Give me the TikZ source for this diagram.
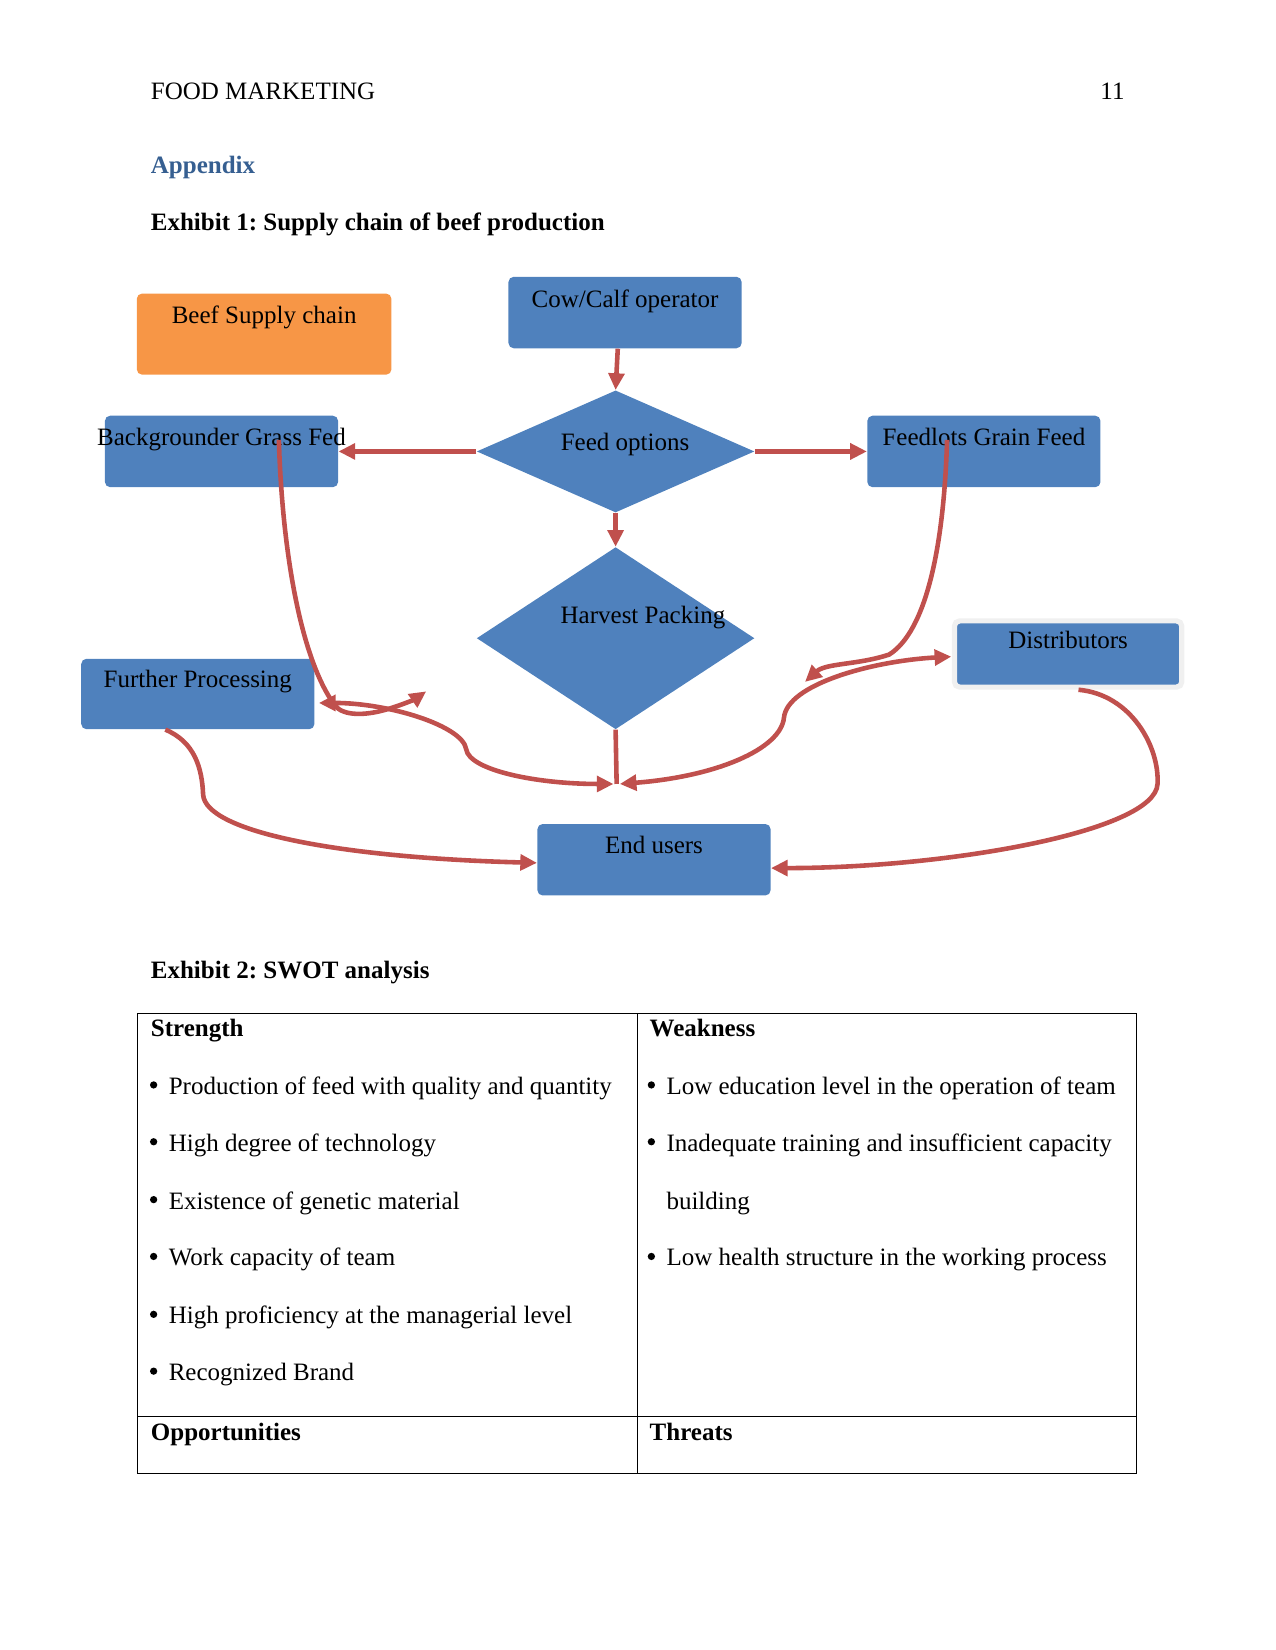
\documentclass[tikz,border=0pt]{standalone}
\usepackage{fontspec}
\setmainfont{Liberation Serif}
\usetikzlibrary{arrows.meta,shapes.geometric}
\definecolor{boxblue}{RGB}{79,129,189}
\definecolor{boxorange}{RGB}{247,150,70}
\definecolor{arrred}{RGB}{192,80,77}
\definecolor{headblue}{RGB}{54,95,145}
\frenchspacing
\begin{document}
\begin{tikzpicture}[x=0.505pt,y=-0.505pt,
  box/.style={fill=boxblue, rounded corners=2.5pt, inner sep=0pt, minimum width=111.9pt, minimum height=34.3pt},
  dia/.style={diamond, fill=boxblue, inner sep=0pt, minimum width=133.3pt},
  lbl/.style={font=\fontsize{12}{14}\selectfont, anchor=base, inner sep=0pt},
  txt/.style={font=\fontsize{12}{14}\selectfont, anchor=base west, inner sep=0pt},
  bul/.style={circle, fill=black, inner sep=0pt, minimum size=3.5pt},
  link/.style={draw=arrred, line width=2.2pt, -{Triangle[length=8pt,width=7.5pt]}},
  twoway/.style={draw=arrred, line width=2.2pt, {Triangle[length=8pt,width=7.5pt]}-{Triangle[length=8pt,width=7.5pt]}},
  plain/.style={draw=arrred, line width=2.2pt},
  grid/.style={draw=black, line width=0.6pt}
]
\useasboundingbox (0,0) rectangle (1212,1568);
% header
\node[txt] (hd) at (143,95) {FOOD MARKETING};
\node[lbl, anchor=base east] (pg) at (1069,95) {11};
\node[txt, font=\fontsize{12}{14}\selectfont\bfseries, text=headblue] (app) at (143,165) {Appendix};
\node[txt, font=\fontsize{12}{14}\selectfont\bfseries] (ex1) at (143,219) {Exhibit 1: Supply chain of beef production};
% boxes
\node[box, fill=boxorange, minimum width=122.2pt, minimum height=38.9pt] (beef) at (251,317.5) {};
\node[box] (cow) at (594,297) {};
\node[box] (bg) at (210.5,429) {};
\node[box] (fl) at (935,429) {};
\node[box, minimum height=33.8pt] (fp) at (188,659.5) {};
\node[box, draw=gray!12, line width=2.5pt, minimum width=109.1pt, minimum height=31.8pt] (dist) at (1015,621.5) {};
\node[box] (eu) at (621.5,817) {};
\node[dia, minimum height=58.6pt] (fo) at (585,429) {};
\node[dia, minimum height=87.4pt] (hp) at (585,606.5) {};
% box labels
\node[lbl] (tbeef) at (251,307.5) {Beef Supply chain};
\node[lbl] (tcow) at (594,292.5) {Cow/Calf operator};
\node[lbl] (tbg) at (210.5,423.5) {Backgrounder Grass Fed};
\node[lbl] (tfl) at (935,423.5) {Feedlots Grain Feed};
\node[lbl] (tfo) at (594,428.5) {Feed options};
\node[lbl] (thp) at (611,592.5) {Harvest Packing};
\node[lbl] (tfp) at (188,653.5) {Further Processing};
\node[lbl] (tdist) at (1015,616.5) {Distributors};
\node[lbl] (teu) at (621.5,811.5) {End users};
% free ends
\coordinate (bgs) at (265,418);
\coordinate (fls) at (900,418);
\coordinate (jn) at (586,745);
\coordinate (jnl) at (583,745);
\coordinate (jnr) at (589,745);
\coordinate (fpe) at (303,668);
\coordinate (tipA) at (405,657);
\coordinate (tipC) at (765,648);
\coordinate (diw) at (904,624);
% straight connectors
\draw[link] ([xshift=-3.5pt]cow.south) -- (fo.north);
\draw[link] (fo.west) -- (bg.east);
\draw[link] (fo.east) -- (fl.west);
\draw[link] (fo.south) -- (hp.north);
\draw[plain] (hp.south) -- (jn);
% curved connectors
\draw[link] (bgs) .. controls (268,520) and (285,625) .. (318,670) .. controls (326,681) and (348,680) .. (368,674) .. controls (382,670) and (395,664) .. (tipA);
\draw[twoway] (fpe) .. controls (370,668) and (440,690) .. (443,712) .. controls (446,732) and (510,745) .. (jnl);
\draw[link] (fls) .. controls (897,520) and (880,600) .. (845,622) .. controls (815,632) and (785,630) .. (tipC);
\draw[twoway] (jnr) .. controls (680,738) and (742,712) .. (745,682) .. controls (748,650) and (830,628) .. (diw);
\draw[link] ([xshift=5pt]dist.south) .. controls (1075,660) and (1102,710) .. (1100,745) .. controls (1098,790) and (900,825) .. ([yshift=-4pt]eu.east);
\draw[link] ([xshift=-15.6pt]fp.south) .. controls (185,705) and (192,730) .. (193,755) .. controls (195,790) and (320,815) .. ([yshift=-1.5pt]eu.west);
% exhibit 2
\node[txt, font=\fontsize{12}{14}\selectfont\bfseries] (ex2) at (143,930) {Exhibit 2: SWOT analysis};
\draw[grid] (131,963) rectangle (1080,1400);
\draw[grid] (606,963) -- (606,1400);
\draw[grid] (131,1346) -- (1080,1346);
\node[txt, font=\fontsize{12}{14}\selectfont\bfseries] (sh) at (143,985) {Strength};
\node[txt, font=\fontsize{12}{14}\selectfont\bfseries] (wh) at (617,985) {Weakness};
\node[txt, font=\fontsize{12}{14}\selectfont\bfseries] (oh) at (143,1369) {Opportunities};
\node[txt, font=\fontsize{12}{14}\selectfont\bfseries] (th) at (617,1369) {Threats};
\node[bul] (sb1) at (146,1031) {}; \node[txt] (s1) at (160,1040) {Production of feed with quality and quantity};
\node[bul] (sb2) at (146,1085) {}; \node[txt] (s2) at (160,1094) {High degree of technology};
\node[bul] (sb3) at (146,1140) {}; \node[txt] (s3) at (160,1149) {Existence of genetic material};
\node[bul] (sb4) at (146,1194) {}; \node[txt] (s4) at (160,1203) {Work capacity of team};
\node[bul] (sb5) at (146,1249) {}; \node[txt] (s5) at (160,1258) {High proficiency at the managerial level};
\node[bul] (sb6) at (146,1303) {}; \node[txt] (s6) at (160,1312) {Recognized Brand};
\node[bul] (wb1) at (619,1031) {}; \node[txt] (w1) at (633,1040) {Low education level in the operation of team};
\node[bul] (wb2) at (619,1085) {}; \node[txt] (w2) at (633,1094) {Inadequate training and insufficient capacity};
\node[txt] (w2b) at (633,1149) {building};
\node[bul] (wb3) at (619,1194) {}; \node[txt] (w3) at (633,1203) {Low health structure in the working process};
\end{tikzpicture}
\end{document}
